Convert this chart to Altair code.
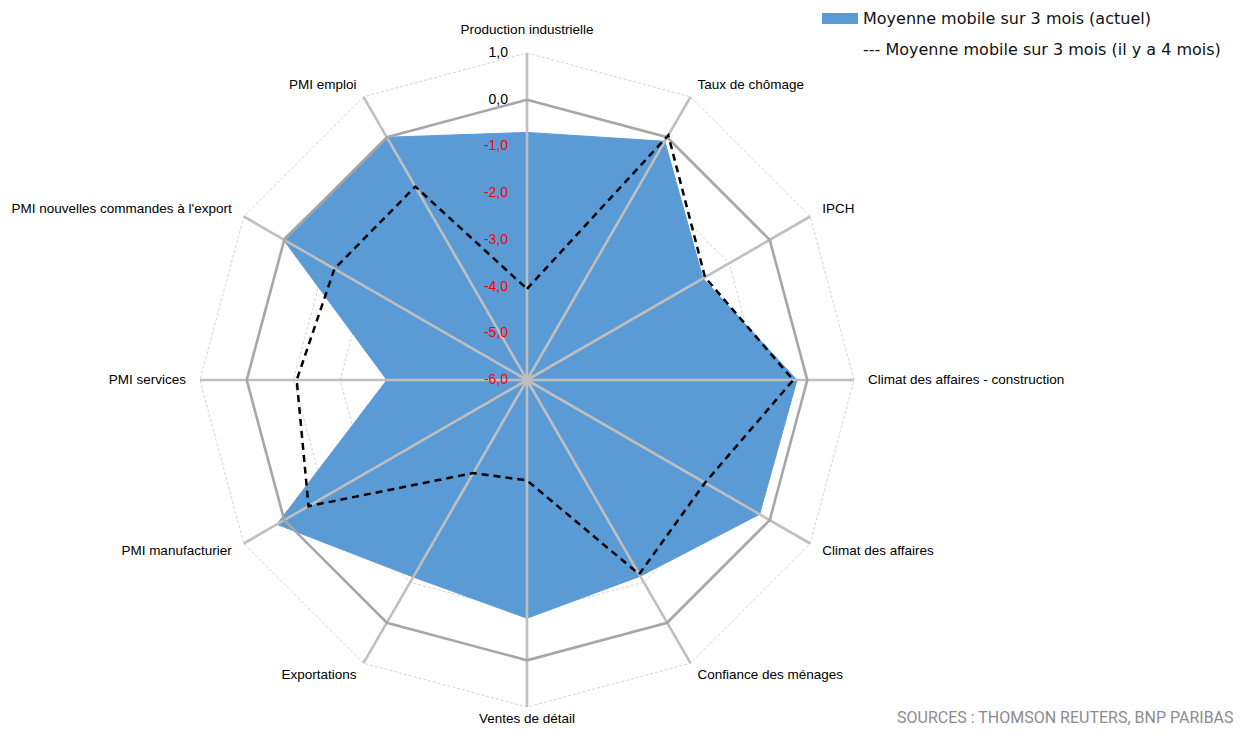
import math
import altair as alt
import pandas as pd

# ---------------- data ----------------
categories = [
    "Production industrielle", "Taux de chômage", "IPCH",
    "Climat des affaires - construction", "Climat des affaires",
    "Confiance des ménages", "Ventes de détail", "Exportations",
    "PMI manufacturier", "PMI services",
    "PMI nouvelles commandes à l'export", "PMI emploi",
]
actuel = [-0.70, -0.10, -1.65, -0.22, -0.25, -1.15, -0.90, -1.13, 0.18, -3.00, 0.03, 0.00]
il_y_a_4_mois = [-4.05, 0.05, -1.60, -0.30, -1.60, -1.20, -3.85, -3.70, -0.60, -1.07, -1.24, -1.22]
series_names = ["Moyenne mobile sur 3 mois (actuel)", "Moyenne mobile sur 3 mois (il y a 4 mois)"]
tick_values = [1.0, 0.0, -1.0, -2.0, -3.0, -4.0, -5.0, -6.0]
tick_labels = ["1,0", "0,0", "-1,0", "-2,0", "-3,0", "-4,0", "-5,0", "-6,0"]
source_text = "SOURCES : THOMSON REUTERS, BNP PARIBAS"

R_MIN, R_MAX = -6.0, 1.0
N = len(categories)

# ---------------- tables ----------------
def polygon(values, name):
    rows = []
    for k in range(N + 1):
        i = k % N
        rows.append({"serie": name, "k": k, "i": i, "cat": categories[i], "value": values[i]})
    return pd.DataFrame(rows)

df_act = polygon(actuel, series_names[0])
df_old = polygon(il_y_a_4_mois, series_names[1])

ring_rows = []
for lv in tick_values[:-1]:
    for k in range(N + 1):
        ring_rows.append({"level": lv, "k": k, "i": k % N, "value": lv})
df_rings = pd.DataFrame(ring_rows)

df_cats = pd.DataFrame({"i": list(range(N)), "cat": categories, "value": [R_MAX] * N})
df_ticks = pd.DataFrame({"value": tick_values, "label": tick_labels})

# ---------------- scales (plot area) ----------------
W, H = 1225, 720
PX = 327 / (R_MAX - R_MIN)          # pixels per unit of radius
CX, CY = 519, 372                    # centre within plot area
xs = alt.Scale(domain=[-CX / PX, (W - CX) / PX], nice=False, zero=False)
ys = alt.Scale(domain=[-(H - CY) / PX, CY / PX], nice=False, zero=False)

ANG = "datum.i * 2 * PI / %d" % N
XC = "(datum.value - (%f)) * sin(%s)" % (R_MIN, ANG)
YC = "(datum.value - (%f)) * cos(%s)" % (R_MIN, ANG)

def base(df):
    return alt.Chart(df).transform_calculate(x=XC, y=YC)

enc_xy = dict(
    x=alt.X("x:Q", scale=xs, axis=None),
    y=alt.Y("y:Q", scale=ys, axis=None),
    order=alt.Order("k:Q"),
)

rings_dashed = base(df_rings).transform_filter("datum.level != 0").mark_line(
    color="#D4D4D4", strokeWidth=1, strokeDash=[3, 2]
).encode(detail="level:N", **enc_xy)

area = base(df_act).mark_line(
    fill="#5B9BD5", stroke="#5B9BD5", strokeWidth=1, interpolate="linear"
).encode(**enc_xy)

spokes = alt.Chart(df_cats).transform_calculate(
    x=XC, y=YC, x0="0", y0="0"
).mark_rule(color="#BFBFBF", strokeWidth=2.6).encode(
    x=alt.X("x0:Q", scale=xs, axis=None),
    y=alt.Y("y0:Q", scale=ys, axis=None),
    x2="x:Q", y2="y:Q",
)

ring_zero = base(df_rings).transform_filter("datum.level == 0").mark_line(
    color="#A6A6A6", strokeWidth=2.6
).encode(**enc_xy)

old_line = base(df_old).mark_line(
    color="#000000", strokeWidth=2.5, strokeDash=[7, 5]
).encode(**enc_xy)

# category labels
LBL = "(cos(%s) > 0.99 ? 7.5 : (cos(%s) < -0.99 ? 7.25 : 7.3))" % (ANG, ANG)
def cat_labels(flt, align):
    return alt.Chart(df_cats).transform_calculate(
        lx=LBL + " * sin(" + ANG + ")", ly=LBL + " * cos(" + ANG + ")", s="sin(" + ANG + ")"
    ).transform_filter(flt).mark_text(
        align=align, baseline="middle", font="Liberation Sans", fontSize=13.5, color="#000000"
    ).encode(
        x=alt.X("lx:Q", scale=xs, axis=None),
        y=alt.Y("ly:Q", scale=ys, axis=None),
        text="cat:N",
    )

lbl_right = cat_labels("datum.s > 0.01", "left")
lbl_left = cat_labels("datum.s < -0.01", "right")
lbl_mid = cat_labels("abs(datum.s) <= 0.01", "center")

tick_text = alt.Chart(df_ticks).transform_calculate(
    tx="0", ty="datum.value - (%f)" % R_MIN
).mark_text(
    align="right", baseline="middle", dx=-19, font="Liberation Sans", fontSize=14
).encode(
    x=alt.X("tx:Q", scale=xs, axis=None),
    y=alt.Y("ty:Q", scale=ys, axis=None),
    text="label:N",
    color=alt.condition("datum.value < 0", alt.value("#FF0000"), alt.value("#000000")),
)

# legend (drawn by hand)
df_leg = pd.DataFrame({"name": series_names, "txt": [series_names[0], "--- " + series_names[1]]})
leg_rect = alt.Chart(df_leg).transform_filter("datum.name == '%s'" % series_names[0]).mark_rect(
    color="#5B9BD5"
).encode(x=alt.value(814), x2=alt.value(850), y=alt.value(5), y2=alt.value(16))
leg_t1 = alt.Chart(df_leg).transform_filter("datum.name == '%s'" % series_names[0]).mark_text(
    align="left", baseline="middle", font="DejaVu Sans", fontSize=16, color="#111111"
).encode(x=alt.value(855), y=alt.value(11), text="txt:N")
leg_t2 = alt.Chart(df_leg).transform_filter("datum.name == '%s'" % series_names[1]).mark_text(
    align="left", baseline="middle", font="DejaVu Sans", fontSize=16, color="#111111"
).encode(x=alt.value(855), y=alt.value(42), text="txt:N")

df_src = pd.DataFrame({"txt": [source_text]})
src = alt.Chart(df_src).mark_text(
    align="left", baseline="middle", font="Roboto", fontSize=16, color="#8C8C8C"
).encode(x=alt.value(889), y=alt.value(710), text="txt:N")

chart = alt.layer(
    rings_dashed, area, spokes, ring_zero, old_line,
    lbl_right, lbl_left, lbl_mid, tick_text,
    leg_rect, leg_t1, leg_t2, src,
).properties(
    width=W, height=H,
    autosize=alt.AutoSizeParams(type="none"),
    padding=0,
).configure_view(stroke=None)

chart.save("out.html", embed_options={"renderer": "svg", "actions": False})
